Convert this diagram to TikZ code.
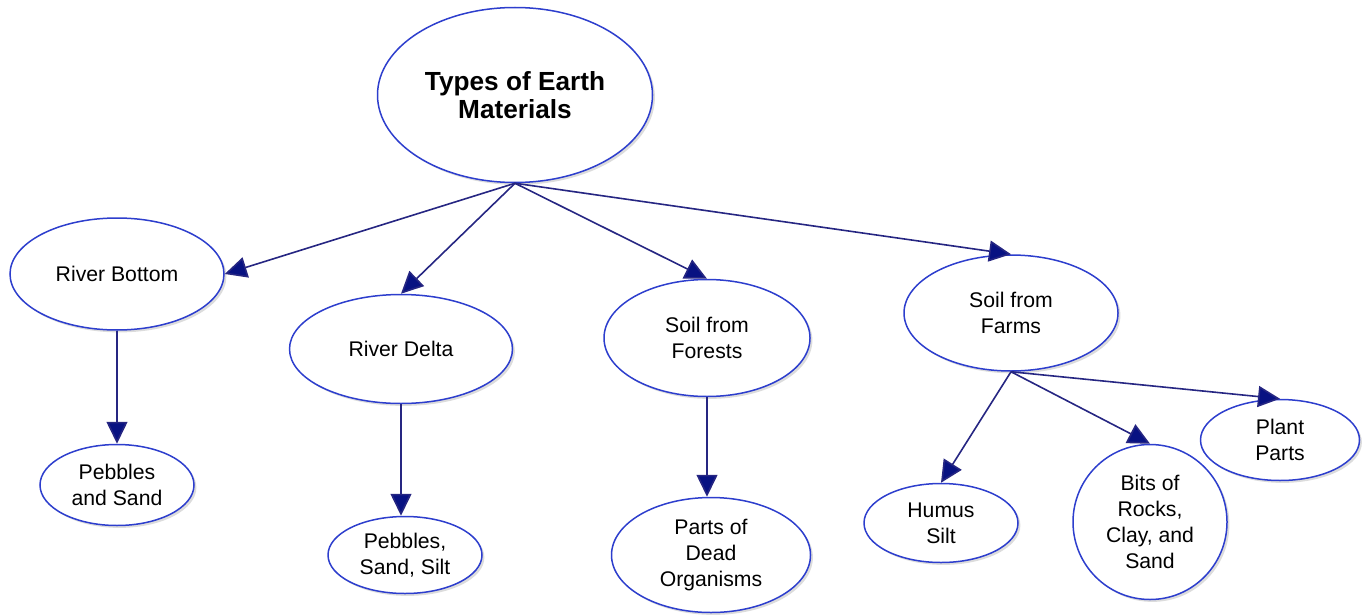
\documentclass[tikz,border=0pt]{standalone}
\usepackage{fontspec}
\setmainfont{Liberation Sans}
\usetikzlibrary{positioning, shapes.geometric, arrows.meta, shadows}
\definecolor{ringblue}{RGB}{45,62,205}
\definecolor{linknavy}{RGB}{38,38,130}
\definecolor{tipnavy}{RGB}{8,18,130}

\begin{document}
\begin{tikzpicture}[x=0.5pt, y=-0.5pt,
		mat/.style={ellipse, draw=ringblue, line width=0.75pt, fill=white, inner sep=0pt, align=center,
			font=\fontsize{10.6}{13}\selectfont,
			drop shadow={shadow xshift=1.2pt, shadow yshift=-1.2pt, fill=black!30, opacity=0.45}},
		link/.style={draw=linknavy, line width=0.8pt, -{Triangle[length=11pt, width=10.5pt, fill=tipnavy]}}]
		\useasboundingbox (0,0) rectangle (1364,615);
		% top concept
		\node[mat, minimum width=137.5pt, minimum height=87.5pt, font=\bfseries\fontsize{13.1}{14}\selectfont] (top) at (515,95) {Types of Earth\\Materials};
		% second row
		\node[mat, minimum width=107pt, minimum height=56pt] (rbot) at (117,274) {River Bottom};
		\node[mat, minimum width=111.5pt, minimum height=54.5pt] (rdel) at (401,349) {River Delta};
		\node[mat, minimum width=103pt, minimum height=58.5pt] (sfor) at (707,338) {Soil from\\Forests};
		\node[mat, minimum width=107pt, minimum height=58pt] (sfarm) at (1011,313) {Soil from\\Farms};
		% leaves
		\node[mat, minimum width=77pt, minimum height=40.5pt] (pebsand) at (117,485) {Pebbles\\and Sand};
		\node[mat, minimum width=77pt, minimum height=38.5pt] (pebsilt) at (405,555) {Pebbles,\\Sand, Silt};
		\node[mat, minimum width=99.5pt, minimum height=57.5pt] (dead) at (711,555) {Parts of\\Dead\\Organisms};
		\node[mat, minimum width=77pt, minimum height=39.5pt] (humus) at (941,523) {Humus\\Silt};
		\node[mat, minimum width=77pt, minimum height=77.5pt] (bits) at (1150,522) {Bits of\\Rocks,\\Clay, and\\Sand};
		\node[mat, minimum width=79.5pt, minimum height=40.5pt] (plant) at (1280,440) {Plant\\Parts};
		% links
		\draw[link] (top.south) -- (rbot.east);
		\draw[link] (top.south) -- (rdel.north);
		\draw[link] (top.south) -- (sfor.north);
		\draw[link] (top.south) -- (sfarm.north);
		\draw[link] (rbot.south) -- (pebsand.north);
		\draw[link] (rdel.south) -- (rdel.south |- pebsilt.north);
		\draw[link] (sfor.south) -- (sfor.south |- dead.north);
		\draw[link] (sfarm.south) -- (humus.north);
		\draw[link] (sfarm.south) -- (bits.north);
		\draw[link] (sfarm.south) -- (plant.north);
\end{tikzpicture}
\end{document}
